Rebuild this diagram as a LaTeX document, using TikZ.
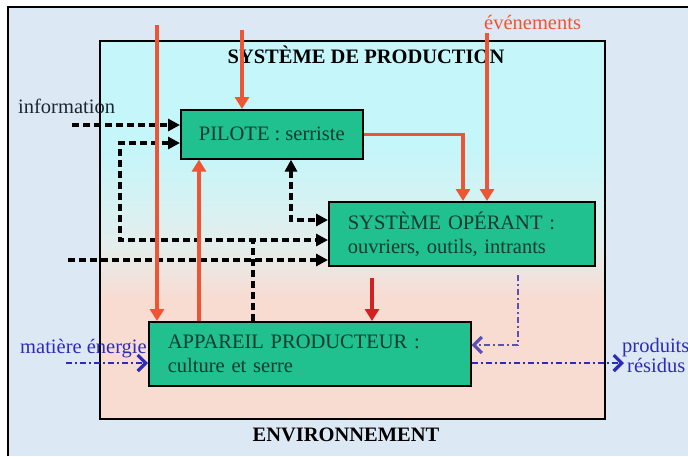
\documentclass[tikz,border=0pt]{standalone}
\usepackage{fontspec}
\setmainfont{Liberation Serif}
\usetikzlibrary{arrows.meta}

\definecolor{pagebg}{HTML}{DCE8F4}
\definecolor{bgcyan}{HTML}{C4F6FA}
\definecolor{bgmid}{HTML}{E4EEEC}
\definecolor{bgpink}{HTML}{F8DCD2}
\definecolor{boxgreen}{HTML}{20C18E}
\definecolor{boxtext}{HTML}{0E3B2C}
\definecolor{flowred}{HTML}{EE5535}
\definecolor{darkred}{HTML}{D42020}
\definecolor{flowblue}{HTML}{2C2CB8}
\definecolor{flowviolet}{HTML}{5A50B8}
\definecolor{labeldark}{HTML}{1E2636}

% cyan at the top fading into pink at the bottom
\pgfdeclareverticalshading{prodshade}{100bp}{%
  color(0bp)=(bgpink); color(25bp)=(bgpink); color(41bp)=(bgpink);
  color(48bp)=(bgmid); color(61bp)=(bgcyan); color(75bp)=(bgcyan);
  color(100bp)=(bgcyan)}

\begin{document}
\begin{tikzpicture}[x=1pt,y=-1pt,
  txt/.style={font=\fontsize{20.5}{24}\selectfont, inner sep=0pt},
  ttl/.style={font=\bfseries\fontsize{20.5}{24}\selectfont, inner sep=0pt, text=black},
  box/.style={draw=black, line width=1.6pt, fill=boxgreen, text=boxtext,
    font=\fontsize{20.5}{24}\selectfont, anchor=north west, inner sep=0pt, align=left},
  redflow/.style={draw=flowred, line width=3.6pt, -{Triangle[length=12pt,width=14pt]}},
  darkflow/.style={draw=darkred, line width=3.6pt, -{Triangle[length=12pt,width=14pt]}},
  dashline/.style={draw=black, line width=3.2pt, dash pattern=on 7pt off 4pt},
  dashtip/.style={-{Triangle[length=12pt,width=12pt]}},
  dashboth/.style={{Triangle[length=12pt,width=12pt]}-{Triangle[length=12pt,width=12pt]}},
  dotline/.style={line width=2.6pt, dash pattern=on 6pt off 3pt on 2pt off 3pt},
  dottip/.style={-{Straight Barb[length=8pt,width=16pt,line width=3.2pt]}},
]
\useasboundingbox (0,0) rectangle (688,456);

% page background and frame
\fill[pagebg] (8,7) rectangle (688,456);
\draw[line width=1.4pt] (8,456) -- (8,7) -- (688,7);

% production system area
\path[shading=prodshade, draw=black, line width=1.5pt] (100,41) rectangle (605,419);
\node[ttl, anchor=base] (prodtitle) at (366,63) {SYSTÈME DE PRODUCTION};
\node[ttl, anchor=base] (envtitle) at (346,441) {ENVIRONNEMENT};

% the three subsystems
\node[box, minimum width=182pt, minimum height=49pt, align=center] (pilote) at (180,109)
  {PILOTE : serriste};
\node[box, inner xsep=19pt, text width=228pt, minimum height=64pt] (so) at (328,201)
  {SYSTÈME OPÉRANT :\\ouvriers, outils, intrants};
\node[box, inner xsep=19pt, text width=284pt, minimum height=64pt] (ap) at (148,321)
  {APPAREIL PRODUCTEUR :\\culture et serre};

% outside labels
\node[txt, anchor=base west, text=labeldark] (info) at (18,113) {information};
\node[txt, anchor=base west, text=flowred] (evt) at (484,29) {événements};
\node[txt, anchor=base west, text=flowblue] (matiere) at (20,353) {matière énergie};
\node[txt, anchor=base west, text=flowblue] (produits) at (622,352) {produits};
\node[txt, anchor=base west, text=flowblue] (residus) at (627,372) {résidus};

% free ends
\coordinate (infoin) at (72,125);
\coordinate (loopleft) at (120,240);
\coordinate (fbap) at (253,240);
\coordinate (fbpil) at (291,220);
\coordinate (infoso) at (68,260);
\coordinate (redA) at (157,25);
\coordinate (redB) at (242,30);
\coordinate (redE) at (487,33);
\coordinate (darkS) at (372,278);
\coordinate (matin) at (66,363);
\coordinate (sodrop) at (518,275);
\coordinate (prodout) at (624,363);

% information flows
\draw[dashline, dashtip] (infoin) -- (infoin -| pilote.west);
\draw[dashline, dashboth] (pilote.west |- 0,143) -| (loopleft) -- (so.west |- loopleft);
\draw[dashline] (fbap |- ap.north) -- (fbap);
\draw[dashline, dashboth] (fbpil |- pilote.south) |- (so.west |- fbpil);
\draw[dashline, dashtip] (infoso) -- (so.west |- infoso);

% decisions and events
\draw[redflow] (redA) -- (redA |- ap.north);
\draw[redflow] (redB) -- (redB |- pilote.north);
\draw[redflow] (199,0 |- ap.north) -- (199,0 |- pilote.south);
\draw[redflow] (pilote.east) -| (463,0 |- so.north);
\draw[redflow] (redE) -- (redE |- so.north);
\draw[darkflow] (darkS) -- (darkS |- ap.north);

% matter and energy
\draw[flowblue, dotline, dottip] (matin) -- (matin -| ap.west);
\draw[flowviolet, dotline, dottip] (sodrop) |- (ap.east |- 0,345);
\draw[flowblue, dotline, dottip] (ap.east |- prodout) -- (prodout);
\end{tikzpicture}
\end{document}
